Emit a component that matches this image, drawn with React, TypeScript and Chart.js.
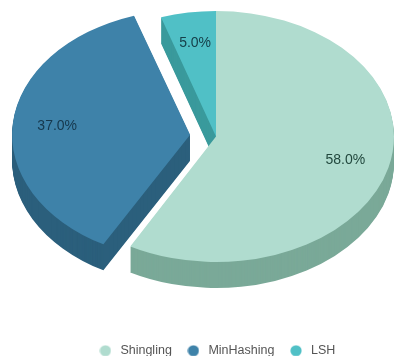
import React, { useEffect, useRef } from "react";
import { Chart, registerables } from "chart.js";

Chart.register(...registerables);

const methods = ["Shingling", "MinHashing", "LSH"];
const shares = [58, 37, 5];
const pulledOut = [0, 104, 0];

const faceColors = ["#b0dccf", "#3e82a9", "#50c0c6"];
const wallColors = ["#7aa998", "#2b5f7c", "#3a9a9c"];
const labelColors = ["#21473d", "#16384d", "#16404a"];

const TILT = 125.5 / 178;
const CENTER_Y = 136.5;
const DEPTH = 26;
const FONT = "'Liberation Sans', Arial, sans-serif";

// The slices are drawn in a flattened space, so the pie reads as a tilted disc.
const applyTilt = (ctx: CanvasRenderingContext2D, pivotY: number, drop = 0) => {
  ctx.translate(0, CENTER_Y + drop);
  ctx.scale(1, TILT);
  ctx.translate(0, -pivotY);
};

const tiltedPie = {
  id: "tiltedPie",
  afterDatasetsUpdate(chart: any) {
    // ArcElement grows an offset slice a little; keep every slice at one radius.
    chart.getDatasetMeta(0).data.forEach((arc: any) => {
      const shift = (arc.options.offset || 0) / 4;
      arc.outerRadius -= shift * (1 - Math.sin(Math.min(Math.PI, arc.circumference)));
    });
  },
  beforeDatasetsDraw(chart: any) {
    const { ctx } = chart;
    const arcs = chart.getDatasetMeta(0).data;
    // Side walls: stacked copies of each slice, lowest first.
    for (let drop = DEPTH; drop > 0; drop--) {
      ctx.save();
      applyTilt(ctx, arcs[0].y, drop);
      arcs.forEach((arc: any, i: number) => {
        const own = arc.options;
        arc.options = { ...own, backgroundColor: wallColors[i] };
        arc.draw(ctx);
        arc.options = own;
      });
      ctx.restore();
    }
    ctx.save();
    applyTilt(ctx, arcs[0].y);
  },
  afterDatasetsDraw(chart: any) {
    const { ctx } = chart;
    ctx.restore();
    const arcs = chart.getDatasetMeta(0).data;
    ctx.save();
    ctx.font = `14px ${FONT}`;
    ctx.textAlign = "center";
    ctx.textBaseline = "middle";
    arcs.forEach((arc: any, i: number) => {
      const mid = (arc.startAngle + arc.endAngle) / 2;
      const reach = (arc.options.offset || 0) / 4 + 178 * 0.75;
      ctx.fillStyle = labelColors[i];
      ctx.fillText(
        `${shares[i].toFixed(1)}%`,
        arc.x + Math.cos(mid) * reach,
        CENTER_Y + Math.sin(mid) * reach * TILT
      );
    });
    ctx.restore();
  },
};

const legendDot = (color: string) => {
  const dot = document.createElement("canvas");
  dot.width = 12;
  dot.height = 12;
  const c = dot.getContext("2d")!;
  c.fillStyle = color;
  c.beginPath();
  c.arc(6, 6, 5.6, 0, Math.PI * 2);
  c.fill();
  return dot;
};

export default function App() {
  const ref = useRef<HTMLCanvasElement>(null);

  useEffect(() => {
    const chart = new Chart(ref.current!, {
      type: "pie",
      data: {
        labels: methods,
        datasets: [
          {
            data: shares,
            backgroundColor: faceColors,
            offset: pulledOut,
            borderWidth: 0,
            clip: false,
          } as any,
        ],
      },
      options: {
        responsive: false,
        animation: false,
        events: [],
        radius: 178,
        layout: { padding: { left: 38, bottom: -11 } },
        plugins: {
          tooltip: { enabled: false },
          legend: {
            position: "bottom",
            labels: {
              usePointStyle: true,
              pointStyleWidth: 17.5,
              padding: 12.85,
              color: "#555555",
              font: { family: FONT, size: 12.5 },
              generateLabels: () =>
                methods.map((text, i) => ({
                  text,
                  index: i,
                  fontColor: "#555555",
                  fillStyle: faceColors[i],
                  strokeStyle: faceColors[i],
                  lineWidth: 0,
                  pointStyle: legendDot(faceColors[i]),
                })),
            },
          },
        },
      } as any,
      plugins: [tiltedPie],
    });
    return () => chart.destroy();
  }, []);

  return (
    <div style={{ position: "fixed", left: 0, top: 0, width: 394, height: 356, background: "#ffffff" }}>
      <canvas ref={ref} width={394} height={356} style={{ display: "block" }} />
    </div>
  );
}
